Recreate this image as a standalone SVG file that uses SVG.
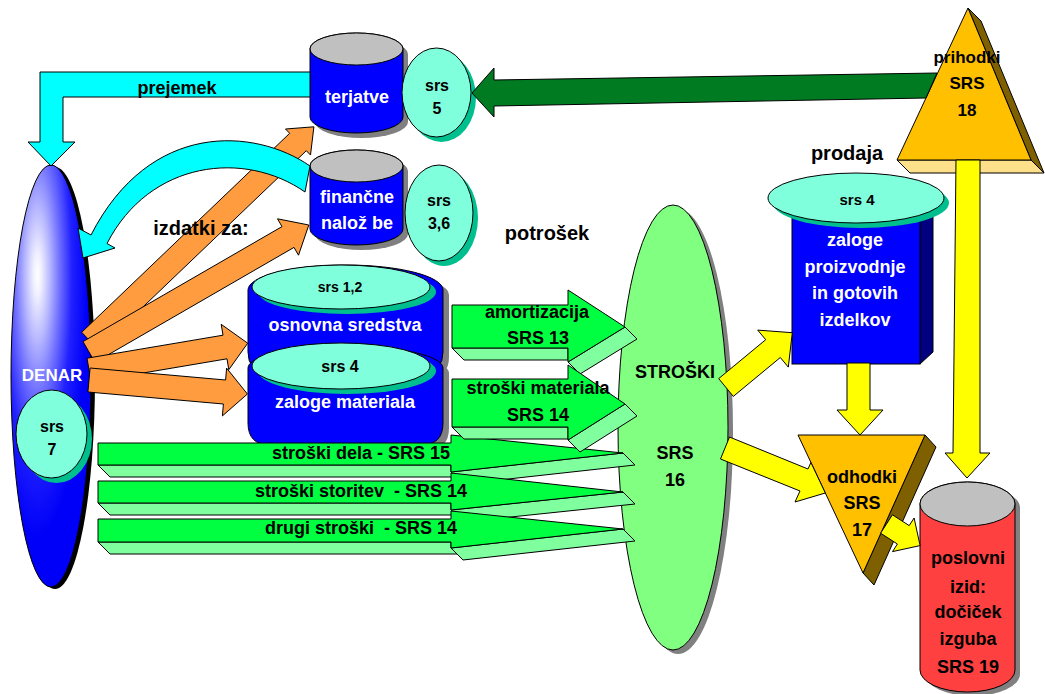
<svg xmlns="http://www.w3.org/2000/svg" width="1045" height="694" viewBox="0 0 1045 694">
  <defs>
    <radialGradient id="denarFill" cx="0.33" cy="0.26" r="0.62" fx="0.33" fy="0.26">
      <stop offset="0" stop-color="#ffffff"/>
      <stop offset="0.08" stop-color="#f0f0ff"/>
      <stop offset="0.25" stop-color="#b8b8ff"/>
      <stop offset="0.45" stop-color="#7070ff"/>
      <stop offset="0.7" stop-color="#2020ff"/>
      <stop offset="1" stop-color="#0000f8"/>
    </radialGradient>
  </defs>
  <style>
    .ln { stroke: #000; stroke-width: 1; stroke-linejoin: miter; }
    .blue { fill: #0000ff; }
    .navy { fill: #000080; }
    .silver { fill: #c0c0c0; }
    .shade { fill: #808080; }
    .aqua { fill: #80ffdc; }
    .teal { fill: #00bf8f; }
    .cyan { fill: #00ffff; }
    .orange { fill: #ff9c40; }
    .dgreen { fill: #007b22; }
    .gfront { fill: #00ff40; }
    .gside { fill: #80ff9f; }
    .pale { fill: #80ff80; }
    .yellow { fill: #ffff00; }
    .gold { fill: #ffc000; }
    .brown { fill: #7f6000; }
    .cream { fill: #ffe08a; }
    .red { fill: #ff4040; }
    text { font-family: "Liberation Sans", Arial, Helvetica, sans-serif; font-weight: bold; text-anchor: middle; fill: #000; }
    .w { fill: #fff; }
    .s14 { font-size: 14px; }
    .s15 { font-size: 15px; }
    .s16 { font-size: 16px; }
    .s17 { font-size: 17px; }
    .s18 { font-size: 18px; }
    .s20 { font-size: 20px; }
  </style>
  <rect width="1045" height="694" fill="#ffffff"/>

  <!-- DENAR: cash, with its standard marker -->
  <g id="denar">
    <ellipse cx="55" cy="378" rx="40" ry="211" fill="#000"/>
    <ellipse cx="51" cy="376" rx="40" ry="211" fill="url(#denarFill)" class="ln"/>
    <text x="52" y="381" class="w s17">DENAR</text>
    <ellipse cx="56.5" cy="439" rx="35.5" ry="44" class="teal"/>
    <ellipse cx="51.5" cy="434" rx="35.5" ry="44" class="aqua ln"/>
    <text x="52" y="432" class="s16">srs</text>
    <text x="52" y="455" class="s16">7</text>
  </g>

  <!-- terjatve (receivables) -->
  <g id="terjatve">
    <path d="M310,49 A46.5,16 0 0 1 403,49 L403,117 A46.5,16 0 0 1 310,117 Z" class="shade" transform="translate(5,5)"/>
    <path d="M310,49 A46.5,16 0 0 1 403,49 L403,117 A46.5,16 0 0 1 310,117 Z" class="blue ln"/>
    <ellipse cx="356.5" cy="49" rx="46.5" ry="16" class="silver ln"/>
    <text x="357" y="103" class="w s18">terjatve</text>
  </g>
  <g id="srs5">
    <ellipse cx="441.5" cy="97.5" rx="34.5" ry="44.5" class="teal"/>
    <ellipse cx="436.5" cy="92.5" rx="34.5" ry="44.5" class="aqua ln"/>
    <text x="437" y="91" class="s16">srs</text>
    <text x="437" y="114" class="s16">5</text>
  </g>

  <!-- finančne naložbe (financial investments) -->
  <g id="financne">
    <path d="M310,166 A46.5,16 0 0 1 403,166 L403,229 A46.5,16 0 0 1 310,229 Z" class="shade" transform="translate(5,5)"/>
    <path d="M310,166 A46.5,16 0 0 1 403,166 L403,229 A46.5,16 0 0 1 310,229 Z" class="blue ln"/>
    <ellipse cx="356.5" cy="166" rx="46.5" ry="16" class="silver ln"/>
    <text x="357" y="203" class="w s18">finančne</text>
    <text x="357" y="229" class="w s18">nalož be</text>
  </g>
  <g id="srs36">
    <ellipse cx="444" cy="218" rx="34" ry="48" class="teal"/>
    <ellipse cx="439" cy="213" rx="34" ry="48" class="aqua ln"/>
    <text x="439" y="206" class="s16">srs</text>
    <text x="439" y="229" class="s16">3,6</text>
  </g>

  <!-- osnovna sredstva (fixed assets) -->
  <g id="osnovna-sredstva">
    <path d="M248,290 A97.5,25 0 0 1 443,290 L443,352 Q443,372 423,372 L268,372 Q248,372 248,352 Z" class="shade" transform="translate(6,5)"/>
    <path d="M248,290 A97.5,25 0 0 1 443,290 L443,352 Q443,372 423,372 L268,372 Q248,372 248,352 Z" class="blue ln"/>
    <ellipse cx="347" cy="292" rx="89" ry="22" class="teal"/>
    <ellipse cx="341" cy="287" rx="89" ry="22" class="aqua ln"/>
    <text x="340" y="292" class="s14">srs 1,2</text>
    <text x="345" y="331" class="w s18">osnovna sredstva</text>
  </g>

  <!-- zaloge materiala (material stock) -->
  <g id="zaloge-materiala">
    <path d="M248,368 A97.5,22 0 0 1 443,368 L443,423 Q443,445 421,445 L270,445 Q248,445 248,423 Z" class="shade" transform="translate(6,5)"/>
    <path d="M248,368 A97.5,22 0 0 1 443,368 L443,423 Q443,445 421,445 L270,445 Q248,445 248,423 Z" class="blue ln"/>
    <ellipse cx="347" cy="371" rx="89" ry="23" class="teal"/>
    <ellipse cx="341" cy="366" rx="89" ry="23" class="aqua ln"/>
    <text x="340" y="372" class="s16">srs 4</text>
    <text x="345" y="408" class="w s18">zaloge materiala</text>
  </g>

  <!-- STROŠKI (costs) -->
  <g id="stroski">
    <ellipse cx="678" cy="431.5" rx="55" ry="222.5" class="shade"/>
    <ellipse cx="673" cy="427.5" rx="55" ry="222.5" class="pale ln"/>
    <text x="675" y="378" class="s18">STROŠKI</text>
    <text x="675" y="459" class="s18">SRS</text>
    <text x="675" y="486" class="s18">16</text>
  </g>

  <!-- zaloge proizvodnje in gotovih izdelkov (work in progress and finished goods) -->
  <g id="zaloge-proizvodnje">
    <polygon points="920,217 933,205 933,352 920,364" class="navy ln"/>
    <rect x="792" y="217" width="128" height="147" class="blue ln"/>
    <ellipse cx="861" cy="203" rx="88" ry="25" class="teal"/>
    <ellipse cx="856" cy="198" rx="88" ry="25" class="aqua ln"/>
    <text x="857" y="205" class="s15">srs 4</text>
    <text x="855" y="246" class="w s18">zaloge</text>
    <text x="855" y="273" class="w s18">proizvodnje</text>
    <text x="855" y="299" class="w s18">in gotovih</text>
    <text x="855" y="326" class="w s18">izdelkov</text>
  </g>

  <!-- prihodki (revenue) -->
  <g id="prihodki">
    <polygon points="897,160 910,173 1044,173 1031,160" class="cream ln"/>
    <polygon points="968,8 981,21 1044,173 1031,160" class="brown ln"/>
    <polygon points="968,8 897,160 1031,160" class="gold ln"/>
    <text x="967" y="63" class="s17">prihodki</text>
    <text x="967" y="89" class="s17">SRS</text>
    <text x="967" y="116" class="s17">18</text>
  </g>

  <!-- odhodki (expenses) -->
  <g id="odhodki">
    <polygon points="925,435 936,447 874,585 863,573" class="brown ln"/>
    <polygon points="798,435 925,435 863,573" class="gold ln"/>
    <text x="862" y="483" class="s18">odhodki</text>
    <text x="862" y="509" class="s18">SRS</text>
    <text x="862" y="536" class="s18">17</text>
  </g>

  <!-- poslovni izid (operating result) -->
  <g id="poslovni-izid">
    <path d="M920,504 A47.5,22 0 0 1 1015,504 L1015,670 A47.5,22 0 0 1 920,670 Z" class="shade" transform="translate(5,4)"/>
    <path d="M920,504 A47.5,22 0 0 1 1015,504 L1015,670 A47.5,22 0 0 1 920,670 Z" class="red ln"/>
    <ellipse cx="967.5" cy="504" rx="47.5" ry="22" class="silver ln"/>
    <text x="968" y="564" class="s18">poslovni</text>
    <text x="968" y="593" class="s18">izid:</text>
    <text x="968" y="618" class="s18">dočiček</text>
    <text x="968" y="645" class="s18">izguba</text>
    <text x="968" y="673" class="s18">SRS 19</text>
  </g>

  <!-- flows between the accounts -->
  <g id="connectors">
    <!-- receipt: terjatve back to cash -->
    <polygon points="310,72 40,72 40,142 28,142 51,166 75,142 63,142 63,97 310,97" class="cyan ln"/>

    <!-- outlays from cash -->
    <polygon points="81.7,332.3 289.7,133.3 285.5,129 313.9,126.8 310.5,155 306.3,150.7 98.3,349.7" class="orange ln"/>
    <polygon points="83,341.6 282,226.6 277.5,218.8 308.8,225 298.5,255.2 294,247.4 95,362.4" class="orange ln"/>
    <polygon points="87,358.2 223,335.2 221.2,324.3 247.7,343.2 228.8,369.7 227,358.8 91,381.8" class="orange ln"/>
    <polygon points="90.1,368 225.6,380 226.6,368.1 247.4,394 222.4,415.9 223.4,404 87.9,392" class="orange ln"/>

    <!-- return from financial investments to cash -->
    <path d="M310,166 C255,128 150,120 91,235 L78,228 L83,258 L115,248 L107,243.5 C150,160 245,150 305,192 Z" class="cyan ln"/>

    <!-- revenue to receivables -->
    <polygon points="472,93 494,68 494,80 937,73 926,98 494,106 494,117" class="dgreen ln"/>

    <!-- cost flows into STROŠKI -->
    <polygon points="98,465 451,465 451,472 456,477 110,477" class="gside ln"/>
    <polygon points="451,472 623,453 635,465 463,484" class="gside ln"/>
    <polygon points="98,443 451,443 451,435 623,453 451,472 451,465 98,465" class="gfront ln"/>
    <text x="361" y="459" class="s18">stroški dela - SRS 15</text>

    <polygon points="98,503 451,503 451,510 456,515 110,515" class="gside ln"/>
    <polygon points="451,510 623,492 635,504 463,522" class="gside ln"/>
    <polygon points="98,481 451,481 451,473 623,492 451,510 451,503 98,503" class="gfront ln"/>
    <text x="361" y="497" class="s18" xml:space="preserve">stroški storitev  - SRS 14</text>

    <polygon points="98,542 451,542 451,548 457,554 110,554" class="gside ln"/>
    <polygon points="451,548 623,529 635,541 463,560" class="gside ln"/>
    <polygon points="98,519 451,519 451,511 623,529 451,548 451,542 98,542" class="gfront ln"/>
    <text x="361" y="534" class="s18" xml:space="preserve">drugi stroški  - SRS 14</text>

    <polygon points="452,348 568,348 568,360 464,360" class="gside ln"/>
    <polygon points="568,362 625,327 637,339 580,374" class="gside ln"/>
    <polygon points="452,305 568,305 568,290 625,327 568,362 568,348 452,348" class="gfront ln"/>
    <text x="537" y="318" class="s18">amortizacija</text>
    <text x="538" y="344" class="s18">SRS 13</text>

    <polygon points="452,427 568,427 568,439 464,439" class="gside ln"/>
    <polygon points="568,440 625,404 637,416 580,452" class="gside ln"/>
    <polygon points="452,379 568,379 568,365 625,404 568,440 568,427 452,427" class="gfront ln"/>
    <text x="538" y="394" class="s18">stroški materiala</text>
    <text x="538" y="421" class="s18">SRS 14</text>

    <!-- costs onward to stock, expenses and the result -->
    <polygon points="718.7,378.6 765.7,339.7 757.7,330.1 792.3,332.7 788.3,367.1 780.3,357.5 733.3,396.4" class="yellow ln"/>
    <polygon points="729.5,437 808,469 810.9,462.5 825.3,493 795,502 800,491 720.5,459" class="yellow ln"/>
    <polygon points="847,363 870,363 870,410 883,410 860,435 837,410 847,410" class="yellow ln"/>
    <polygon points="956,160 980,160 980,453 990,453 967,478 945,453 953,453" class="yellow ln"/>
    <polygon points="892.4,514.8 909.2,525.6 914.1,518 920.1,545.6 892.5,551.6 897.4,544 880.6,533.2" class="yellow ln"/>

    <!-- flow labels -->
    <text x="177" y="94" class="s18">prejemek</text>
    <text x="201" y="235" class="s20">izdatki za:</text>
    <text x="547" y="240" class="s20">potrošek</text>
    <text x="847" y="160" class="s20">prodaja</text>
  </g>
</svg>
